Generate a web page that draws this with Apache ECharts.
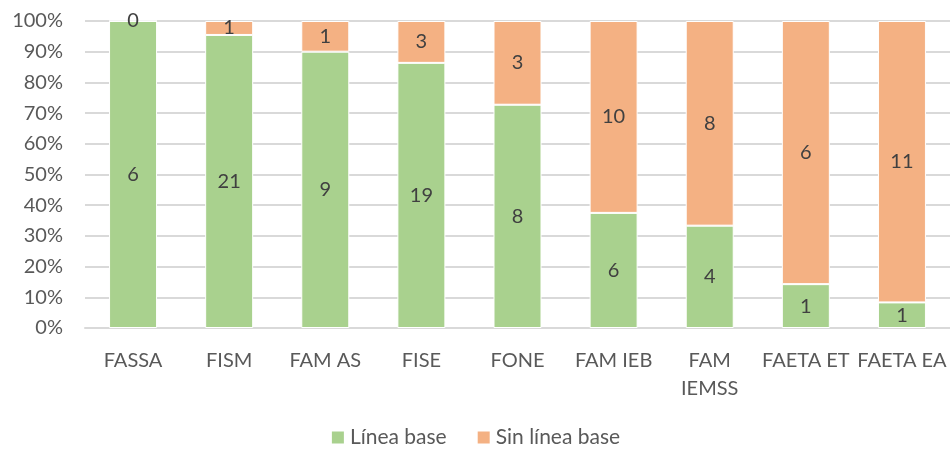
<!DOCTYPE html>
<html><head><meta charset="utf-8">
<script src="https://cdn.jsdelivr.net/npm/echarts@6/dist/echarts.min.js"></script>
<style>html,body{margin:0;padding:0;background:#fff}#c{width:950px;height:449px}</style>
</head><body><div id="c"></div>
<script>
const categories = ['FASSA','FISM','FAM AS','FISE','FONE','FAM IEB','FAM IEMSS','FAETA ET','FAETA EA'];
const conLinea = [6,21,9,19,8,6,4,1,1];
const sinLinea = [0,1,1,3,3,10,8,6,11];
const yTicks = [0,10,20,30,40,50,60,70,80,90,100];

const totals = categories.map((_, i) => conLinea[i] + sinLinea[i]);
const pct = (arr) => arr.map((v, i) => ({ value: v / totals[i] * 100, count: v }));

const font = 'Lato, "Open Sans", sans-serif';
const txt = '#595959';
const fs = 20;
const chart = echarts.init(document.getElementById('c'));
chart.setOption({
  animation: false,
  textStyle: { fontFamily: font },
  grid: { left: 85, right: 0, top: 21, bottom: 121, containLabel: false },
  legend: {
    bottom: -4, left: 'center', itemWidth: 14, itemHeight: 14, itemGap: 29,
    icon: 'rect',
    textStyle: { color: txt, fontSize: 21, fontFamily: font },
    data: ['Línea base', 'Sin línea base']
  },
  xAxis: {
    type: 'category', data: categories,
    axisLine: { lineStyle: { color: '#d9d9d9', width: 2 } },
    axisTick: { show: false },
    axisLabel: {
      color: txt, fontSize: fs, margin: 19, lineHeight: 28, interval: 0,
      formatter: v => v === 'FAM IEMSS' ? 'FAM\nIEMSS' : v
    }
  },
  yAxis: {
    type: 'value', min: 0, max: 100, interval: 10,
    axisLine: { show: false }, axisTick: { show: false },
    splitLine: { lineStyle: { color: '#d9d9d9', width: 2 } },
    axisLabel: { color: txt, fontSize: fs, margin: 22, formatter: v => yTicks.includes(v) ? v + '%' : '' }
  },
  series: [
    {
      name: 'Línea base', type: 'bar', stack: 't', barWidth: 48,
      data: pct(conLinea),
      itemStyle: { color: '#A9D18E', borderColor: '#fff', borderWidth: 1 },
      label: { show: true, position: 'inside', color: '#404040', fontSize: fs, fontFamily: font,
        formatter: p => p.data.count }
    },
    {
      name: 'Sin línea base', type: 'bar', stack: 't', barWidth: 48,
      data: pct(sinLinea),
      itemStyle: { color: '#F4B183', borderColor: '#fff', borderWidth: 1 },
      label: { show: true, position: 'inside', color: '#404040', fontSize: fs, fontFamily: font,
        formatter: p => p.data.count }
    }
  ]
});
</script></body></html>
